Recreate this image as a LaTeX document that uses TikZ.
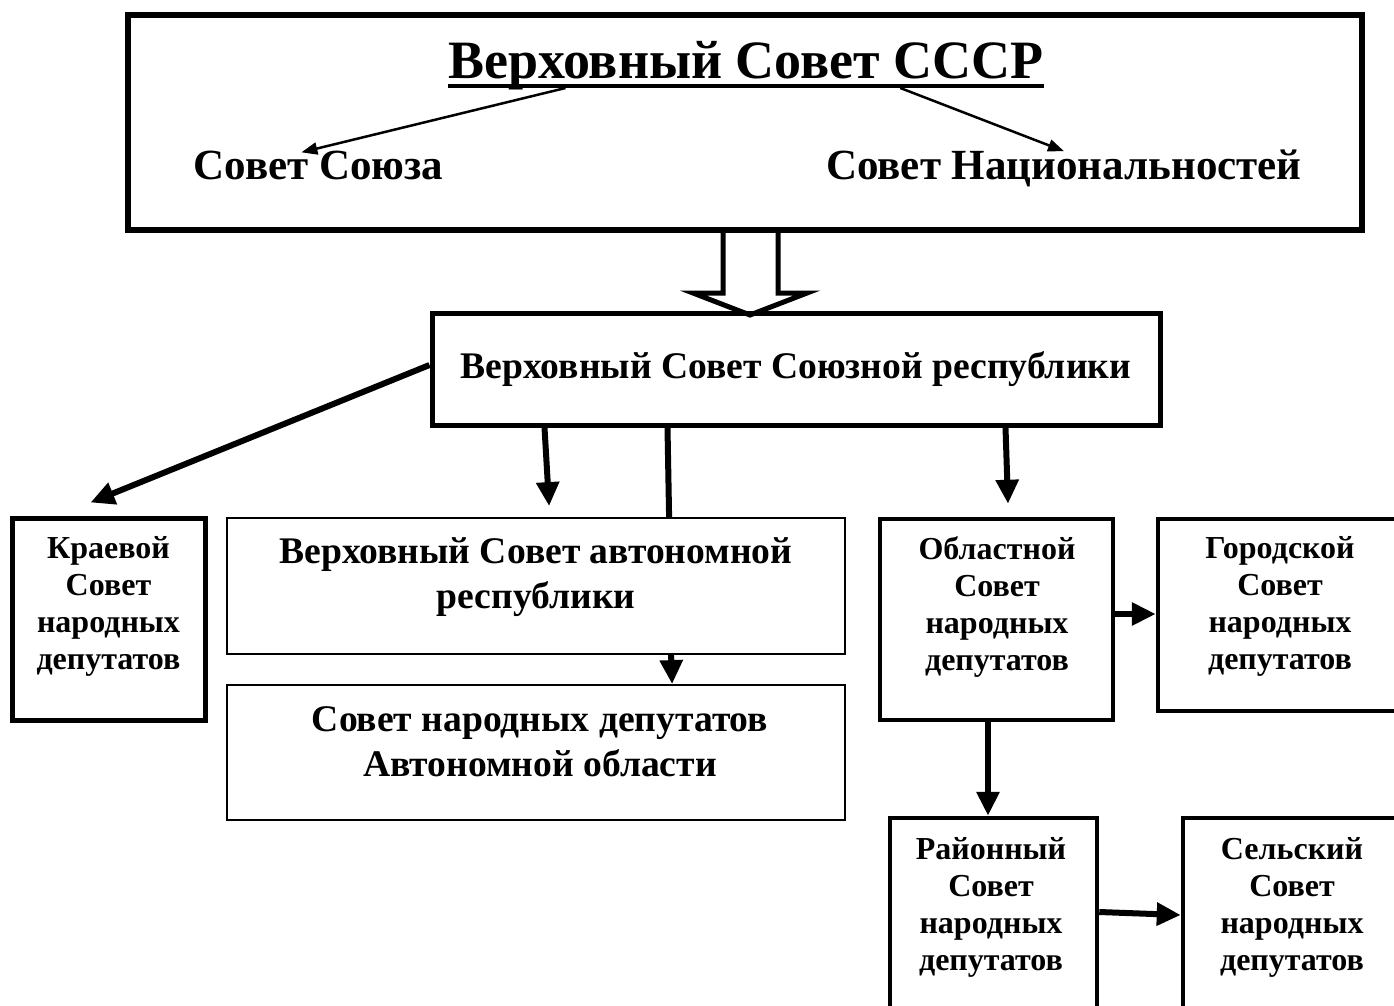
\documentclass[tikz,border=0pt]{standalone}
\usepackage{fontspec}
\setmainfont{Liberation Serif}
\usetikzlibrary{arrows.meta,calc}
\begin{document}
\begin{tikzpicture}[x=1pt,y=-1pt,
  frame/.style={draw, line width=4.5pt, inner sep=0pt},
  thinframe/.style={draw, line width=1.8pt, inner sep=0pt},
  titlefont/.style={font=\bfseries\fontsize{54}{66}\selectfont, inner sep=0pt},
  subfont/.style={font=\bfseries\fontsize{43}{52}\selectfont, inner sep=0pt},
  bigtxt/.style={font=\bfseries\fontsize{37.6}{45}\selectfont, align=center, inner sep=0pt},
  smalltxt/.style={font=\bfseries\fontsize{32}{37}\selectfont, align=center, inner sep=0pt},
  arr/.style={line width=6pt, -{Triangle[length=24pt,width=22pt]}},
  thinarr/.style={line width=2.5pt, -{Triangle[length=16pt,width=12pt]}}
]
\clip (0,0) rectangle (1394,1005);
\fill[white] (0,0) rectangle (1394,1005);

% top box
\node[frame, line width=6pt, minimum width=1234pt, minimum height=215pt] (top) at (745,122.5) {};
\node[titlefont, anchor=base] (title) at (746,78) {Верховный Совет СССР};
\draw[line width=4pt] ($(title.base west)+(0,8)$) -- ($(title.base east)+(0,8)$);
\node[subfont, anchor=base] (soyuz) at (318.5,179) {Совет Союза};
\node[subfont, anchor=base] (nats) at (1064,179) {Совет Национальностей};
\draw[thinarr] ($(title.base west)!0.197!(title.base east)+(0,10)$) -- ($(soyuz.north west)+(108,2)$);
\draw[thinarr] ($(title.base west)!0.759!(title.base east)+(0,10)$) -- ($(nats.north)+(0,2)$);

% union republic
\node[frame, line width=5pt, minimum width=728pt, minimum height=112pt, bigtxt] (vssr) at (796,369) {Верховный Совет Союзной республики};

% hollow arrow
\draw[line width=5pt, line join=miter]
  ($(top.south)+(-22,0)$) -- ($(top.south)+(-22,60)$) -- ($(top.south)+(-52,60)$)
  -- ($(top.south)+(5,82)$) -- ($(top.south)+(62,60)$) -- ($(top.south)+(33,60)$)
  -- ($(top.south)+(33,0)$);

% lower boxes
\node[frame, line width=5pt, minimum width=193pt, minimum height=202pt] (kr) at (108.5,619) {};
\node[smalltxt] (krt) at (108.5,606.5) {Краевой\\Совет\\народных\\депутатов};

\node[thinframe, minimum width=618pt, minimum height=136pt] (assr) at (536,586) {};
\node[bigtxt] (assrt) at (536,577) {Верховный Совет автономной\\республики};

\node[thinframe, minimum width=618pt, minimum height=135pt] (ao) at (536,752.5) {};
\node[bigtxt] (aot) at (540,742) {Совет народных депутатов\\Автономной области};

\node[frame, minimum width=233pt, minimum height=201pt] (obl) at (996.5,619.5) {};
\node[smalltxt] (oblt) at (997,606.5) {Областной\\Совет\\народных\\депутатов};

\node[frame, minimum width=247pt, minimum height=192pt] (gor) at (1281.5,615) {};
\node[smalltxt] (gort) at (1280,606.5) {Городской\\Совет\\народных\\депутатов};

\node[frame, minimum width=207pt, minimum height=194pt] (ray) at (993.5,915) {};
\node[smalltxt] (rayt) at (991,907) {Районный\\Совет\\народных\\депутатов};

\node[frame, minimum width=222pt, minimum height=194pt] (sel) at (1294,915) {};
\node[smalltxt] (selt) at (1292,907) {Сельский\\Совет\\народных\\депутатов};

% connectors
\draw[arr] ($(vssr.west)+(0,-4)$) -- ($(kr.north)+(-18,-13)$);
\draw[arr] ($(vssr.south west)+(115,0)$) -- ($(assr.north west)+(323,-11)$);
\draw[line width=6pt] ($(vssr.south west)+(238,0)$) -- ($(assr.north west)+(443,0)$);
\draw[arr] ($(assr.south west)+(445,0)$) -- ($(ao.north west)+(446,0)$);
\draw[arr] ($(vssr.south west)+(576,0)$) -- ($(obl.north)+(11.5,-13)$);
\draw[arr] ($(obl.east)+(0,-5.5)$) -- ($(gor.west)+(0,-1)$);
\draw[arr] ($(obl.south)+(-8.5,0)$) -- ($(ray.north)+(-5.5,0)$);
\draw[arr] ($(ray.east)+(0,-3)$) -- (sel.west);
\end{tikzpicture}
\end{document}
